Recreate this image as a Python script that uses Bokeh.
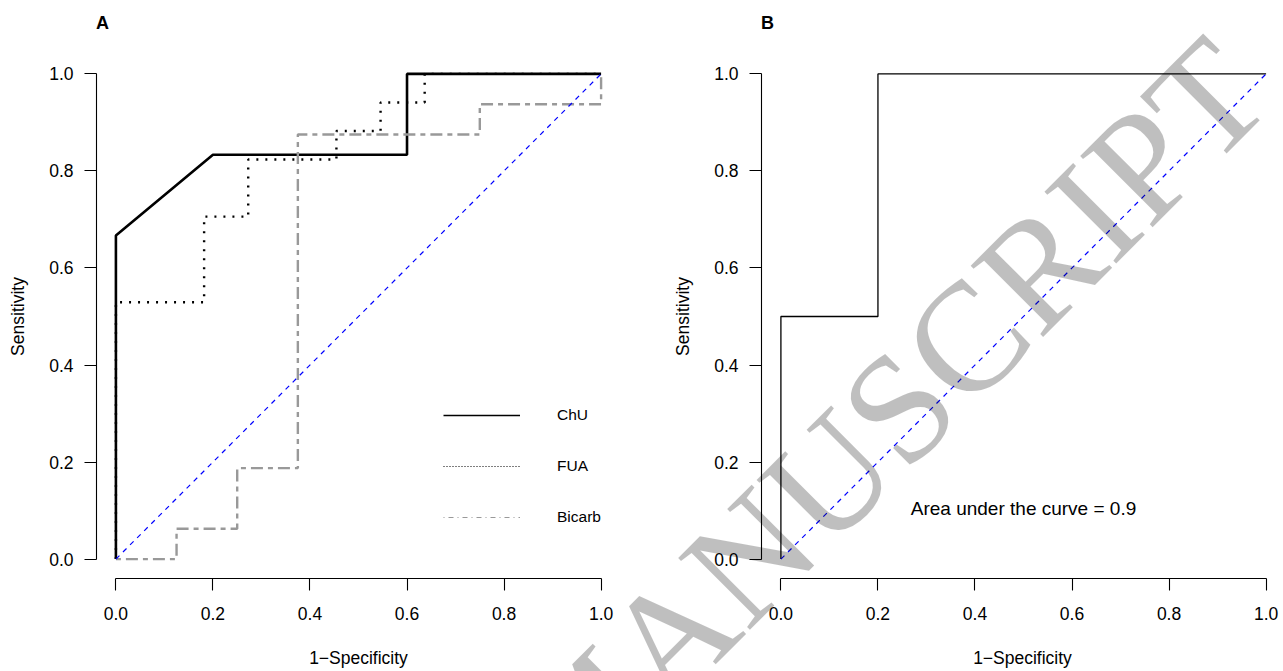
from bokeh.plotting import figure
from bokeh.layouts import row
from bokeh.models import FixedTicker, Legend, LegendItem, Div
from bokeh.core.properties import value
from bokeh.embed import file_html
from bokeh.resources import INLINE

# ---------------- data ----------------
# Panel A: ROC curves (1-specificity, sensitivity)
chu_fpr = [0.0, 0.0, 0.2, 0.6, 0.6, 1.0]
chu_tpr = [0.0, 0.6667, 0.8333, 0.8333, 1.0, 1.0]

fua_fpr = [0.0, 0.0, 0.1818, 0.1818, 0.2727, 0.2727, 0.4545, 0.4545,
           0.5455, 0.5455, 0.6364, 0.6364, 1.0]
fua_tpr = [0.0, 0.5294, 0.5294, 0.7059, 0.7059, 0.8235, 0.8235, 0.8824,
           0.8824, 0.9412, 0.9412, 1.0, 1.0]

bic_fpr = [0.0, 0.125, 0.125, 0.25, 0.25, 0.375, 0.375, 0.75, 0.75, 1.0, 1.0]
bic_tpr = [0.0, 0.0, 0.0625, 0.0625, 0.1875, 0.1875, 0.875, 0.875, 0.9375, 0.9375, 1.0]

series_names = ["ChU", "FUA", "Bicarb"]

# Panel B: single ROC curve
b_fpr = [0.0, 0.0, 0.2, 0.2, 1.0]
b_tpr = [0.0, 0.5, 0.5, 1.0, 1.0]
auc_text = "Area under the curve = 0.9"
auc_pos = (0.5, 0.105)

# chance line
ref_x = [0.0, 1.0]
ref_y = [0.0, 1.0]

tick_values = [0.0, 0.2, 0.4, 0.6, 0.8, 1.0]
tick_labels = ["0.0", "0.2", "0.4", "0.6", "0.8", "1.0"]

panel_tags = ["A", "B"]
x_title = "1\u2212Specificity"
y_title = "Sensitivity"
watermark = "MANUSCRIPT"

# ---------------- layout constants ----------------
FONT = "Liberation Sans"
FRAME = 524
K = FRAME / 1.08          # pixels per data unit
H = 671
TOP = 54
BOTTOM = H - TOP - FRAME
WA, WB = 640, 643
A_LEFT, B_LEFT = 96, 121
WM_PAGE = (882, 415)   # page position of watermark centre
WM_SIZE = 155
TAG_POS = [(91, 9), (756, 9)]   # positions of the panel tags in the overlay
NAN = float("nan")


def style_axes(p):
    for ax in (p.xaxis[0], p.yaxis[0]):
        ax.ticker = FixedTicker(ticks=tick_values)
        ax.major_label_overrides = {t: s for t, s in zip(tick_values, tick_labels)}
        ax.bounds = (0, 1)
        ax.minor_tick_line_color = None
        ax.major_tick_in = 0
        ax.major_tick_out = 12
        ax.axis_line_color = "black"
        ax.axis_line_width = 1.1
        ax.major_tick_line_color = "black"
        ax.major_tick_line_width = 1.1
        ax.major_label_text_font = FONT
        ax.major_label_text_font_size = "17.5px"
        ax.major_label_text_color = "black"
        ax.axis_label_text_font = FONT
        ax.axis_label_text_font_size = "17.5px"
        ax.axis_label_text_font_style = "normal"
        ax.axis_label_text_color = "black"
    p.xaxis[0].axis_label = x_title
    p.yaxis[0].axis_label = y_title
    p.xaxis[0].major_label_standoff = 16
    p.xaxis[0].axis_label_standoff = 25
    p.yaxis[0].major_label_standoff = 11
    p.yaxis[0].axis_label_standoff = 18
    p.yaxis[0].major_label_orientation = "horizontal"
    p.xgrid.visible = False
    p.ygrid.visible = False
    p.outline_line_color = None


# ---------------- panel A ----------------
pa = figure(width=WA, height=H, x_range=(-0.04, 1.04), y_range=(-0.04, 1.04),
            output_backend="svg", toolbar_location=None,
            min_border_left=A_LEFT, min_border_right=WA - A_LEFT - FRAME,
            min_border_top=TOP, min_border_bottom=BOTTOM)
style_axes(pa)

pa.line(chu_fpr, chu_tpr, line_color="black", line_width=2.6)
pa.line(bic_fpr, bic_tpr, line_color="#999999", line_width=2.4,
        line_dash="5 5 12 5")
pa.line(fua_fpr, fua_tpr, line_color="black", line_width=2.4, line_dash="2 7")
pa.line(ref_x, ref_y, line_color="#0000ff", line_width=1.2, line_dash="5 5")

leg_chu = pa.line([NAN], [NAN], line_color="black", line_width=1.3)
leg_fua = pa.line([NAN], [NAN], line_color="black", line_width=1.2, line_dash="1 2")
leg_bic = pa.line([NAN], [NAN], line_color="#999999", line_width=1.2,
                  line_dash="1 4 5 4")
legend = Legend(items=[LegendItem(label=series_names[0], renderers=[leg_chu]),
                       LegendItem(label=series_names[1], renderers=[leg_fua]),
                       LegendItem(label=series_names[2], renderers=[leg_bic])],
                location=(347, 51), padding=0, margin=0, spacing=31,
                glyph_width=77, glyph_height=20, label_height=20,
                label_standoff=37, border_line_color=None,
                background_fill_alpha=0, label_text_font=FONT,
                label_text_font_size="15.5px", label_text_color="black")
pa.add_layout(legend)

# ---------------- panel B ----------------
pb = figure(width=WB, height=H, x_range=(-0.04, -0.04 + (WB - B_LEFT) / K),
            y_range=(-0.04, 1.04),
            output_backend="svg", toolbar_location=None,
            min_border_left=B_LEFT, min_border_right=0,
            min_border_top=TOP, min_border_bottom=BOTTOM)
style_axes(pb)

pb.line(b_fpr, b_tpr, line_color="black", line_width=1.3)
pb.line(ref_x, ref_y, line_color="#0000ff", line_width=1.2, line_dash="5 5")
pb.text(x=[auc_pos[0]], y=[auc_pos[1]], text=[auc_text], text_font=value(FONT),
        text_font_size="19px", text_align="center", text_baseline="middle",
        text_color="black")

# ---------------- overlay: panel tags and watermark spanning both panels ----------------
tags_html = "".join(
    '<div style="position:absolute;left:%dpx;top:%dpx;font-family:\'%s\';'
    'font-size:18px;font-weight:bold;line-height:1;color:black;">%s</div>'
    % (x, y, FONT, t) for t, (x, y) in zip(panel_tags, TAG_POS))
wm_html = ('<div style="position:absolute;left:%dpx;top:%dpx;'
           'transform:translate(-50%%,-50%%) rotate(-45deg);'
           "font-family:'Liberation Serif';font-size:%dpx;line-height:1;"
           'color:rgba(0,0,0,0.25);white-space:nowrap;">%s</div>'
           % (WM_PAGE[0], WM_PAGE[1], WM_SIZE, watermark))
overlay = Div(text=tags_html + wm_html, width=0, height=0,
              styles={"position": "absolute", "left": "0px", "top": "0px",
                      "width": "%dpx" % (WA + WB), "height": "%dpx" % H,
                      "overflow": "hidden", "pointer-events": "none",
                      "z-index": "10"})

layout = row(pa, pb)
open("out.html", "w").write(file_html([layout, overlay], INLINE))
